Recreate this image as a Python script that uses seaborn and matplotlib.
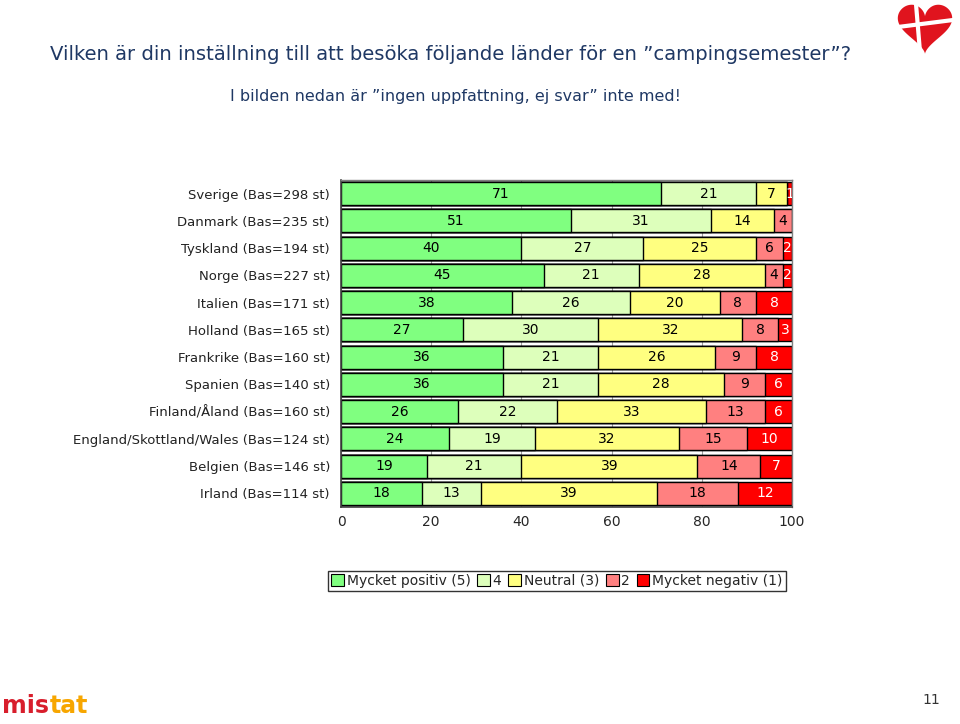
import matplotlib
matplotlib.use("Agg")
import matplotlib.pyplot as plt
import seaborn as sns
import pandas as pd
import numpy as np
from matplotlib.patches import Patch, Polygon
from matplotlib.lines import Line2D

categories = [
    "Sverige (Bas=298 st)", "Danmark (Bas=235 st)", "Tyskland (Bas=194 st)",
    "Norge (Bas=227 st)", "Italien (Bas=171 st)", "Holland (Bas=165 st)",
    "Frankrike (Bas=160 st)", "Spanien (Bas=140 st)", "Finland/Åland (Bas=160 st)",
    "England/Skottland/Wales (Bas=124 st)", "Belgien (Bas=146 st)", "Irland (Bas=114 st)",
]
mycket_positiv = [71, 51, 40, 45, 38, 27, 36, 36, 26, 24, 19, 18]
fyra = [21, 31, 27, 21, 26, 30, 21, 21, 22, 19, 21, 13]
neutral = [7, 14, 25, 28, 20, 32, 26, 28, 33, 32, 39, 39]
tva = [0, 4, 6, 4, 8, 8, 9, 9, 13, 15, 14, 18]
mycket_negativ = [1, 0, 2, 2, 8, 3, 8, 6, 6, 10, 7, 12]

series_names = ["Mycket positiv (5)", "4", "Neutral (3)", "2", "Mycket negativ (1)"]
series_values = [mycket_positiv, fyra, neutral, tva, mycket_negativ]
colors = ["#80FF80", "#DDFFBB", "#FFFF80", "#FF8080", "#FF0000"]
text_colors = ["black", "black", "black", "black", "white"]
xticks = [0, 20, 40, 60, 80, 100]

sns.set_theme(style="white")
plt.rcParams["font.family"] = ["DejaVu Sans"]

fig = plt.figure(figsize=(9.6, 7.24), dpi=100)
ax = fig.add_axes([341/960, 1-507/724, (792-341)/960, (507-180)/724])

vals = np.array(series_values, dtype=float)
cum = np.cumsum(vals, axis=0)

# draw cumulative layers from last to first so earlier segments overlay
for i in range(len(series_names) - 1, -1, -1):
    df = pd.DataFrame({"cat": categories, "val": cum[i]})
    sns.barplot(data=df, x="val", y="cat", orient="h", color=colors[i],
                saturation=1, edgecolor="black", linewidth=1.0, width=0.85,
                ax=ax, zorder=2)

# labels
for i in range(len(series_names)):
    starts = cum[i] - vals[i]
    for j, v in enumerate(vals[i]):
        if v <= 0:
            continue
        ax.text(starts[j] + v / 2, j, f"{int(v)}", ha="center", va="center",
                fontsize=10, color=text_colors[i], zorder=5, clip_on=True)

ax.set_xlim(0, 100)
ax.set_ylim(11.5, -0.5)
ax.set_xticks(xticks)
ax.set_xticklabels([str(t) for t in xticks], fontsize=10)
ax.set_xlabel("")
ax.set_ylabel("")
ax.tick_params(axis="y", labelsize=9.5, length=0, pad=8, labelcolor="#222222")
ax.tick_params(axis="x", length=0, pad=6)
ax.xaxis.grid(True, color="#A0A0A0", linewidth=0.8, zorder=0)
ax.set_axisbelow(True)
for s in ["left", "bottom"]:
    ax.spines[s].set_color("#404040")
    ax.spines[s].set_linewidth(1.2)
for s in ["top", "right"]:
    ax.spines[s].set_color("#808080")
    ax.spines[s].set_linewidth(1.0)

handles = [Patch(facecolor=c, edgecolor="black", linewidth=0.8) for c in colors]
leg = fig.legend(handles, series_names, loc="center",
                 bbox_to_anchor=(557/960, 1-581/724), ncol=5, frameon=True,
                 fancybox=False, fontsize=10, handlelength=0.9, handleheight=0.9,
                 handletextpad=0.2, columnspacing=0.5, borderpad=0.25,
                 borderaxespad=0)
leg.get_frame().set_edgecolor("black")
leg.get_frame().set_linewidth(1.0)

title_color = "#1F3864"
fig.text(50/960, 1-55/724,
         "Vilken är din inställning till att besöka följande länder för en \u201dcampingsemester\u201d?",
         fontsize=14.1, color=title_color, ha="left", va="center")
fig.text(230/960, 1-96/724,
         "I bilden nedan är \u201dingen uppfattning, ej svar\u201d inte med!",
         fontsize=11.5, color=title_color, ha="left", va="center")

# logo: heart shape (decoration) with white cross
t = np.linspace(0, 2 * np.pi, 200)
hx = 16 * np.sin(t) ** 3
hy = 13 * np.cos(t) - 5 * np.cos(2 * t) - 2 * np.cos(3 * t) - np.cos(4 * t)
cx, cy, sc = 925, 25, 1.7
heart = Polygon(np.column_stack([(cx + sc * hx) / 960, 1 - (cy - sc * hy) / 724]),
                closed=True, facecolor="#E0141E", edgecolor="none",
                transform=fig.transFigure, zorder=3)
fig.add_artist(heart)
fig.add_artist(Line2D([898/960, 953/960], [1-27/724, 1-20/724], color="white",
                      linewidth=3, transform=fig.transFigure, zorder=10))
fig.add_artist(Line2D([916/960, 920/960], [1-4/724, 1-52/724], color="white",
                      linewidth=3, transform=fig.transFigure, zorder=10))

t1 = fig.text(2/960, 1-706/724, "mis", fontsize=17, color="#D81E2C", ha="left",
              va="center", fontweight="bold")
fig.canvas.draw()
bb = t1.get_window_extent()
fig.text(bb.x1 / fig.bbox.width + 0.5/960, 1-706/724, "tat", fontsize=17,
         color="#F7A600", ha="left", va="center", fontweight="bold")
fig.text(931/960, 1-700/724, "11", fontsize=10, color="#333333", ha="center", va="center")

fig.savefig("out.png", dpi=100)
